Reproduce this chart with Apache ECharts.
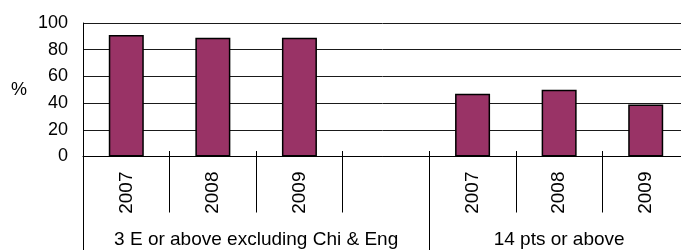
<!DOCTYPE html>
<html>
<head>
<meta charset="utf-8">
<script src="https://cdn.jsdelivr.net/npm/echarts@6/dist/echarts.min.js"></script>
<style>html,body{margin:0;padding:0;background:#fff}#c{width:681px;height:250px}</style>
</head>
<body>
<div id="c"></div>
<script>
var categories = ['2007', '2008', '2009', '', '2007', '2008', '2009'];
var values = [91, 89, 89, null, 47, 50, 39];
var groupNames = ['3 E or above excluding Chi & Eng', '14 pts or above'];
var groupSizes = [4, 3];
var yTicks = { min: 0, max: 100, interval: 20 };
var yName = '%';

var FONT = 'Liberation Sans, Arial, sans-serif';
var groupStart = [];
var groupCenter = {};
(function () {
  var acc = 0;
  for (var i = 0; i < groupSizes.length; i++) {
    groupStart.push(acc);
    groupCenter[acc + groupSizes[i] / 2] = groupNames[i];
    acc += groupSizes[i];
  }
})();

var chart = echarts.init(document.getElementById('c'), null, { renderer: 'canvas' });
chart.setOption({
  animation: false,
  backgroundColor: '#fff',
  grid: { left: 83, width: 606, top: 23, height: 133.5, containLabel: false, outerBoundsMode: 'none' },
  xAxis: [
    {
      type: 'category', data: categories, position: 'bottom',
      axisLine: { show: true, lineStyle: { color: '#000', width: 1 } },
      axisTick: { show: true, interval: 0, length: 56, lineStyle: { color: '#000' } },
      axisLabel: { interval: 0, rotate: 90, margin: 15, fontSize: 19, color: '#000', fontFamily: FONT },
      splitLine: { show: false }
    },
    {
      type: 'category', data: categories, position: 'bottom',
      axisLine: { show: false },
      axisTick: { show: true, inside: true, interval: 0, length: 5.5, lineStyle: { color: '#000' } },
      axisLabel: { show: false }, splitLine: { show: false }
    },
    {
      type: 'category', data: categories, position: 'bottom',
      axisLine: { show: false },
      axisTick: { show: true, length: 94, lineStyle: { color: '#000' },
        interval: function (idx) { return groupStart.indexOf(idx) >= 0; } },
      axisLabel: { show: false }, splitLine: { show: false }
    },
    {
      type: 'value', min: 0, max: categories.length, interval: 0.5, position: 'bottom',
      axisLine: { show: false }, axisTick: { show: false }, splitLine: { show: false },
      axisLabel: { margin: 74, fontSize: 19, color: '#000', fontFamily: FONT,
        showMinLabel: true, showMaxLabel: true,
        formatter: function (v) { return groupCenter[v] || ''; } }
    }
  ],
  yAxis: {
    type: 'value', min: yTicks.min, max: yTicks.max, interval: yTicks.interval,
    name: yName, nameLocation: 'middle', nameRotate: 0, nameGap: 56,
    nameTextStyle: { fontSize: 18, color: '#000', fontFamily: FONT },
    axisLine: { show: true, lineStyle: { color: '#000' } },
    axisTick: { show: false },
    axisLabel: { margin: 15, fontSize: 18, color: '#000', fontFamily: FONT },
    splitLine: { show: true, lineStyle: { color: '#1a1a1a', width: 1 } }
  },
  series: [{
    type: 'bar', xAxisIndex: 0, data: values, barWidth: 35,
    itemStyle: { color: '#993366', borderColor: '#000', borderWidth: 1.5 }
  }]
});
</script>
</body>
</html>
